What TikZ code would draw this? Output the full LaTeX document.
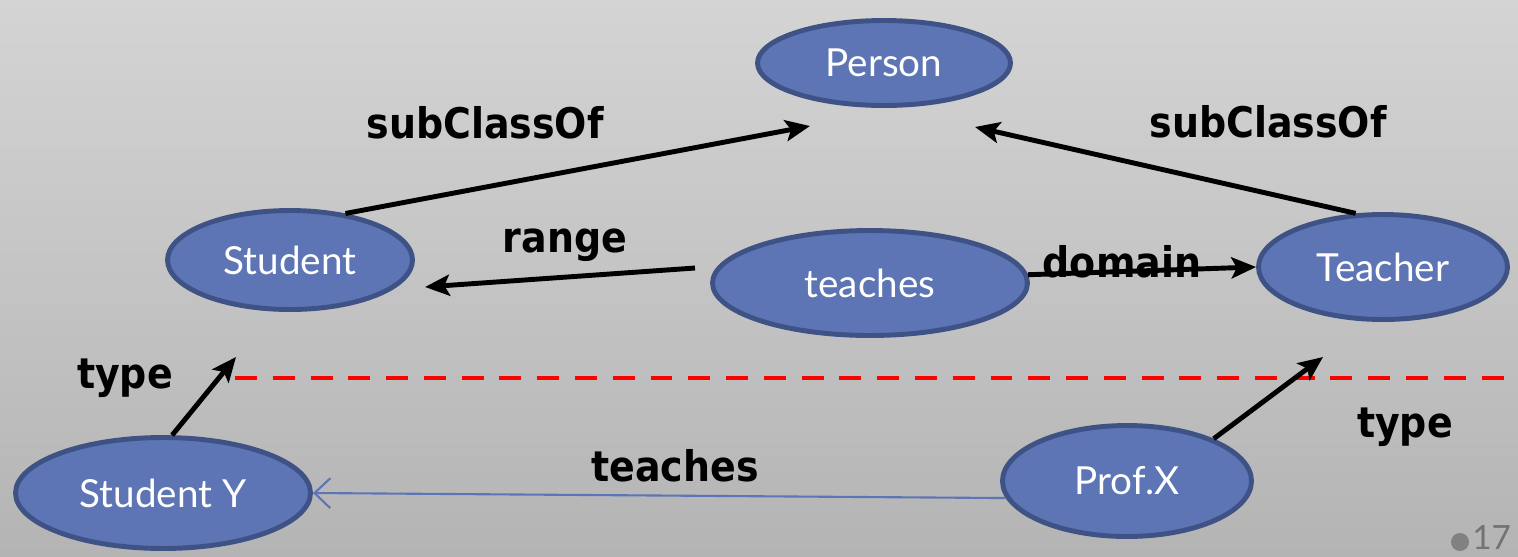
\documentclass[tikz,border=0pt]{standalone}
\usepackage{fontspec}
\setmainfont{Lato}
\newfontfamily\lblfont{DejaVu Sans Condensed}
\usetikzlibrary{shapes.geometric,arrows.meta}
\definecolor{nodefill}{RGB}{93,117,181}
\definecolor{nodeline}{RGB}{62,82,134}
\definecolor{bgtop}{RGB}{212,212,212}
\definecolor{bgbot}{RGB}{180,180,180}
\definecolor{pagegray}{RGB}{115,115,115}
\tikzset{
  concept/.style={ellipse, draw=nodeline, fill=nodefill, line width=2.8pt,
    inner sep=0pt, text=white, font=\fontsize{22}{26}\selectfont},
  rel/.style={draw=black, line width=2.8pt,
    -{Stealth[length=14pt,width=12pt,inset=3pt]}},
  inst/.style={draw=nodefill, line width=1.2pt,
    -{Straight Barb[length=9pt,width=17pt,line width=1.2pt]}},
  lbl/.style={font=\lblfont\bfseries\fontsize{24}{29}\selectfont, text=black, inner sep=0pt},
  boundary/.style={draw=red, line width=2.8pt, dash pattern=on 12.5pt off 9pt}
}
\begin{document}
\begin{tikzpicture}[x=0.02cm,y=-0.02cm]
  % background
  \shade[top color=bgtop, bottom color=bgbot] (0,0) rectangle (1518,556);
  \useasboundingbox (0,0) rectangle (1518,556);

  % schema level
  \node[concept, minimum width=5.06cm, minimum height=1.7cm] (person) at (884,63) {Person};
  \node[concept, minimum width=4.9cm, minimum height=1.98cm] (student) at (290,260) {Student};
  \node[concept, minimum width=6.3cm, minimum height=2.1cm] (teaches) at (870,283) {teaches};
  \node[concept, minimum width=4.98cm, minimum height=2.1cm] (teacher) at (1383,267) {Teacher};

  % instance level
  \node[concept, minimum width=5.9cm, minimum height=2.22cm] (studenty) at (163,493) {Student Y};
  \node[concept, minimum width=4.98cm, minimum height=2.22cm] (profx) at (1127,481) {Prof.X};

  % free arrow ends
  \coordinate (subL) at (810,126);
  \coordinate (subR) at (975,127);
  \coordinate (rangeS) at (695,268);
  \coordinate (rangeE) at (425,287);
  \coordinate (typeL) at (236,357);
  \coordinate (typeR) at (1323,357);

  % level separator
  \draw[boundary] (235,378) -- (1518,378);

  % connectors
  \draw[rel] (student.40) -- (subL);
  \draw[rel] (teacher.117) -- (subR);
  \draw[rel] (rangeS) -- (rangeE);
  \draw[rel] (teaches.3) -- (teacher.west);
  \draw[rel] (studenty.81) -- (typeL);
  \draw[rel] (profx.26) -- (typeR);
  \draw[inst] (profx.188) -- (studenty.east);

  % labels
  \node[lbl] (l1) at (485,123) {subClassOf};
  \node[lbl] (l2) at (1268,122) {subClassOf};
  \node[lbl] (l3) at (565,245) {range};
  \node[lbl] (l4) at (1122,262) {domain};
  \node[lbl] (l5) at (125,378) {type};
  \node[lbl] (l6) at (1405,427) {type};
  \node[lbl] (l7) at (675,466) {teaches};

  % page number
  \fill[pagegray!90] (1460,542) circle (9);
  \node[text=pagegray, font=\fontsize{19}{23}\selectfont, anchor=base west, inner sep=0pt] (pg) at (1472,549) {17};
\end{tikzpicture}
\end{document}
